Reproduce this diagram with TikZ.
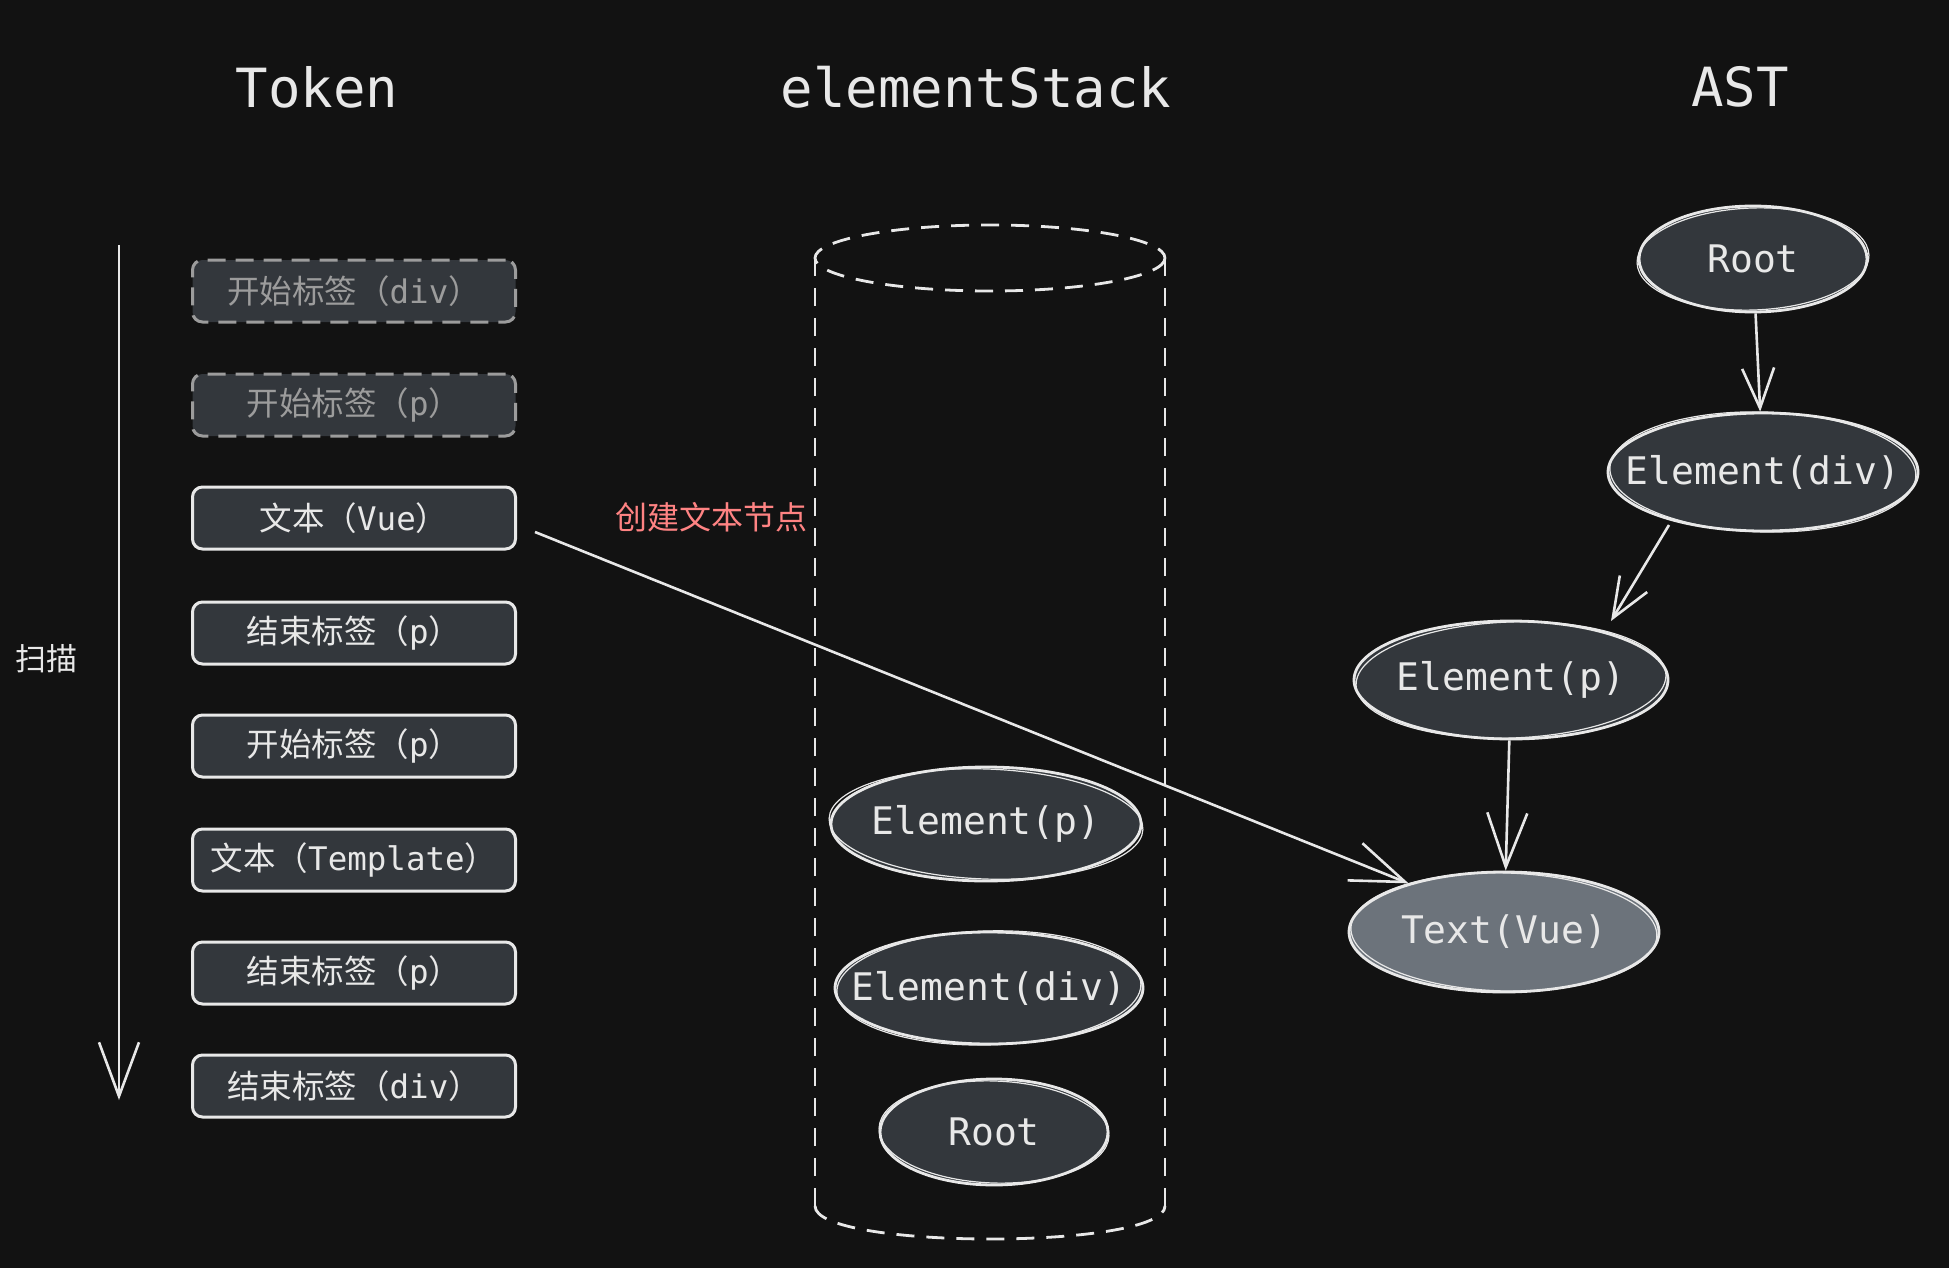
\documentclass[tikz,border=0pt]{standalone}
\usepackage{fontspec}
\setmainfont{DejaVu Sans Mono}
\newfontfamily\cjk{Noto Sans CJK SC}
\newfontfamily\mono{DejaVu Sans Mono}
\usetikzlibrary{arrows.meta,calc,shapes.geometric}
\definecolor{bg}{HTML}{121212}
\definecolor{boxfill}{HTML}{33373C}
\definecolor{lightfill}{HTML}{6C737B}
\definecolor{fg}{HTML}{E8E8E8}
\definecolor{dim}{HTML}{9C9C9C}
\definecolor{labelred}{HTML}{FF8383}
\newcommand\tk[2]{{\cjk #1（}{\mono #2}{\cjk ）}}
\tikzset{
  tok/.style={draw=fg, fill=boxfill, line width=3pt, rounded corners=10pt,
    minimum width=323pt, minimum height=62pt, text=fg, inner sep=0pt,
    font=\fontsize{32.5}{38}\selectfont},
  tokdim/.style={tok, draw=dim, text=dim, dash pattern=on 18pt off 10pt},
  elli/.style={ellipse, draw=fg, fill=boxfill, line width=2.8pt, text=fg,
    inner sep=0pt, font=\mono\fontsize{38}{44}\selectfont},
  sketch/.style={draw=fg, line width=1.2pt},
  title/.style={text=fg, font=\mono\fontsize{54}{60}\selectfont},
  arr/.style={draw=fg, line width=2.6pt, -{Straight Barb[length=40pt,width=32pt]}},
  bigarr/.style={draw=fg, line width=2.6pt, -{Straight Barb[length=54pt,width=40pt]}},
  cyl/.style={draw=fg, line width=2.8pt, dash pattern=on 18pt off 12pt},
}
\begin{document}
\begin{tikzpicture}[x=1pt,y=-1pt]
\path[fill=bg] (0,0) rectangle (1949,1268);
\useasboundingbox (0,0) rectangle (1949,1268);

% titles
\node[title] (hTok) at (317,87) {Token};
\node[title] (hStack) at (976,87) {elementStack};
\node[title] (hAst) at (1740,87) {AST};

% scan arrow
\coordinate (scanA) at (119,245);
\coordinate (scanB) at (119,1100);
\draw[bigarr] (scanA) -- (scanB);
\node[text=fg, font=\cjk\fontsize{31}{36}\selectfont] (scan) at (46,659) {扫描};

% tokens
\node[tokdim] (t1) at (354,291) {\tk{开始标签}{div}};
\node[tokdim] (t2) at (354,405) {\tk{开始标签}{p}};
\node[tok] (t3) at (354,518) {\tk{文本}{Vue}};
\node[tok] (t4) at (354,633) {\tk{结束标签}{p}};
\node[tok] (t5) at (354,746) {\tk{开始标签}{p}};
\node[tok] (t6) at (354,860) {\tk{文本}{Template}};
\node[tok] (t7) at (354,973) {\tk{结束标签}{p}};
\node[tok] (t8) at (354,1086) {\tk{结束标签}{div}};

% cylinder
\draw[cyl] (990,258) ellipse [x radius=175, y radius=33];
\draw[cyl] (815,258) -- (815,1206);
\draw[cyl] (1165,258) -- (1165,1206);
\draw[cyl] (815,1206) .. controls (815,1250) and (1165,1250) .. (1165,1206);

% stack items
\node[elli, minimum width=310pt, minimum height=114pt] (s1) at (986,824) {\makebox[0pt]{Element(p)}};
\draw[sketch, rotate around={-2:(s1.center)}] (s1.center) ellipse [x radius=157, y radius=55];
\node[elli, minimum width=308pt, minimum height=112pt] (s2) at (989,988) {\makebox[0pt]{Element(div)}};
\draw[sketch, rotate around={1.5:(s2.center)}] (s2.center) ellipse [x radius=152, y radius=57];
\node[elli, minimum width=228pt, minimum height=106pt] (s3) at (994,1132) {\makebox[0pt]{Root}};
\draw[sketch, rotate around={-2:(s3.center)}] (s3.center) ellipse [x radius=115, y radius=51];

% AST
\node[elli, minimum width=228pt, minimum height=106pt] (a1) at (1753,259) {\makebox[0pt]{Root}};
\draw[sketch, rotate around={2:(a1.center)}] (a1.center) ellipse [x radius=116, y radius=51];
\node[elli, minimum width=310pt, minimum height=118pt] (a2) at (1763,472) {\makebox[0pt]{Element(div)}};
\draw[sketch, rotate around={-1.5:(a2.center)}] (a2.center) ellipse [x radius=153, y radius=60];
\node[elli, minimum width=314pt, minimum height=118pt] (a3) at (1511,680) {\makebox[0pt]{Element(p)}};
\draw[sketch, rotate around={2:(a3.center)}] (a3.center) ellipse [x radius=155, y radius=58];
\node[elli, fill=lightfill, minimum width=310pt, minimum height=120pt] (a4) at (1504,932) {\makebox[0pt]{Text(Vue)}};
\draw[sketch, rotate around={-1.5:(a4.center)}] (a4.center) ellipse [x radius=153, y radius=59];

\draw[arr] (a1) -- (a2);
\draw[arr] ($(a2)+(-94,53)$) -- ($(a3)+(100,-59)$);
\draw[bigarr] (a3) -- (a4);

% create text node
\coordinate (tstart) at ($(t3.east)+(18,14)$);
\draw[bigarr] (tstart) -- (a4.153);
\node[text=labelred, font=\cjk\fontsize{32}{36}\selectfont] (lbl) at (711,517) {创建文本节点};
\end{tikzpicture}
\end{document}
